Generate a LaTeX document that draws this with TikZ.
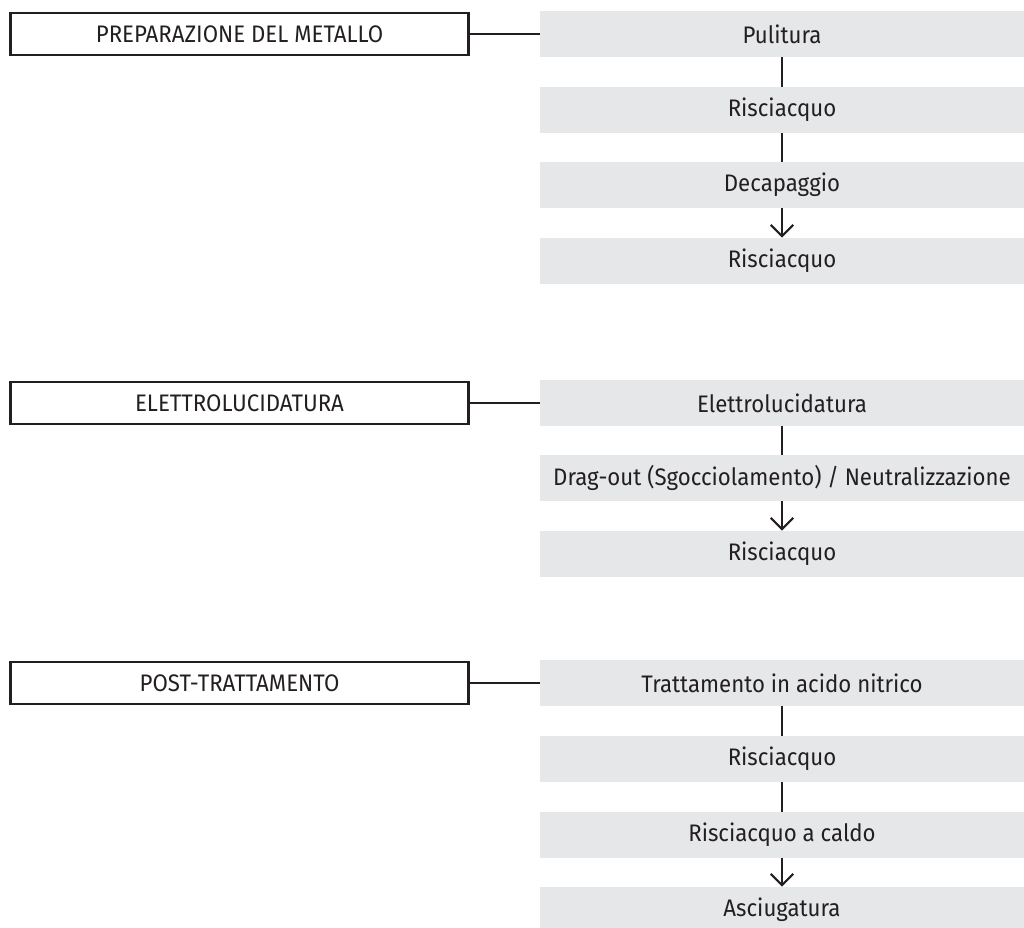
\documentclass[tikz,border=0pt]{standalone}
\usepackage{fontspec}
\setmainfont[FakeStretch=0.93]{Fira Sans}
\usepackage{tikz}
\usetikzlibrary{arrows.meta}
\definecolor{boxgray}{HTML}{E6E7E8}
\definecolor{ink}{HTML}{231F20}

\begin{document}
\begin{tikzpicture}[x=0.025cm, y=-0.025cm,
    every node/.style={font=\fontsize{17}{20}\selectfont, text=ink},
    fase/.style={draw=ink, line width=2pt, minimum width=11.45cm, minimum height=1.05cm, inner sep=0pt},
    passo/.style={fill=boxgray, minimum width=12.1cm, minimum height=1.15cm, inner sep=0pt},
    link/.style={draw=ink, line width=1.8pt},
    freccia/.style={link, -{Straight Barb[length=2.8mm, width=5.6mm, line width=1.6pt]}}]
    % Page
    \useasboundingbox (0,0) rectangle (1024,927);

    % Preparazione del metallo
    \node[fase] (f1) at (239.5,34) {PREPARAZIONE DEL METALLO};
    \node[passo] (p11) at (782,34) {Pulitura};
    \node[passo] (p12) at (782,110) {Risciacquo};
    \node[passo] (p13) at (782,185) {Decapaggio};
    \node[passo] (p14) at (782,261) {Risciacquo};

    % Elettrolucidatura
    \node[fase] (f2) at (239.5,403) {ELETTROLUCIDATURA};
    \node[passo] (p21) at (782,403) {Elettrolucidatura};
    \node[passo] (p22) at (782,478) {Drag-out (Sgocciolamento) / Neutralizzazione};
    \node[passo] (p23) at (782,554) {Risciacquo};

    % Post-trattamento
    \node[fase] (f3) at (239.5,683) {POST-TRATTAMENTO};
    \node[passo] (p31) at (782,683) {Trattamento in acido nitrico};
    \node[passo] (p32) at (782,759) {Risciacquo};
    \node[passo] (p33) at (782,835) {Risciacquo a caldo};
    \node[passo] (p34) at (782,910) {Asciugatura};

    % Connectors
    \foreach \i in {1,2,3} \draw[link] (f\i.east) -- (p\i1.west);
    \draw[link] (p11) -- (p12);
    \draw[link] (p12) -- (p13);
    \draw[freccia] (p13) -- (p14);
    \draw[link] (p21) -- (p22);
    \draw[freccia] (p22) -- (p23);
    \draw[link] (p31) -- (p32);
    \draw[link] (p32) -- (p33);
    \draw[freccia] (p33) -- (p34);
\end{tikzpicture}
\end{document}
